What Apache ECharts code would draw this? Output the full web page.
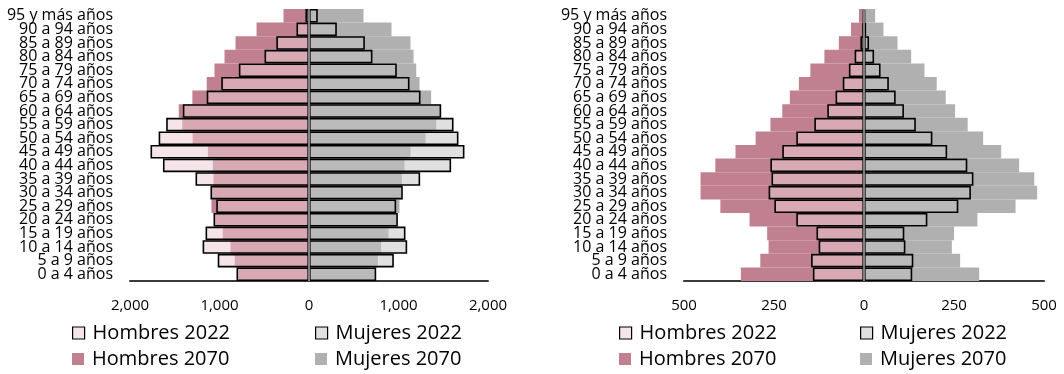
<!DOCTYPE html>
<html>
<head>
<meta charset="utf-8">
<script src="https://cdn.jsdelivr.net/npm/echarts@6/dist/echarts.min.js"></script>
<style>
  html, body { margin: 0; padding: 0; background: #fff; }
  #chart { width: 1064px; height: 374px; }
</style>
</head>
<body>
<div id="chart"></div>
<script>
// age groups, bottom (0 a 4) to top (95 y más)
const ages = ['0 a 4 años', '5 a 9 años', '10 a 14 años', '15 a 19 años', '20 a 24 años',
  '25 a 29 años', '30 a 34 años', '35 a 39 años', '40 a 44 años', '45 a 49 años',
  '50 a 54 años', '55 a 59 años', '60 a 64 años', '65 a 69 años', '70 a 74 años',
  '75 a 79 años', '80 a 84 años', '85 a 89 años', '90 a 94 años', '95 y más años']

// left pyramid
const leftHombres2022 = [810, 1020, 1189, 1156, 1067, 1036, 1101, 1268, 1632, 1771, 1680, 1596, 1410, 1143, 980, 784, 497, 365, 140, 40]
const leftHombres2070 = [790, 830, 877, 964, 1056, 1090, 1087, 1067, 1075, 1130, 1300, 1416, 1455, 1303, 1143, 1056, 944, 821, 586, 285]
const leftMujeres2022 = [751, 948, 1097, 1078, 993, 974, 1048, 1242, 1588, 1737, 1670, 1615, 1477, 1246, 1123, 981, 709, 624, 311, 98]
const leftMujeres2070 = [745, 769, 806, 888, 985, 1011, 1030, 1037, 1067, 1134, 1302, 1421, 1470, 1365, 1235, 1198, 1168, 1134, 922, 609]

// right pyramid
const rightHombres2022 = [142, 147, 126, 132, 188, 249, 265, 257, 260, 227, 188, 138, 102, 79, 59, 42, 26, 10, 5, 3]
const rightHombres2070 = [342, 288, 265, 269, 318, 399, 454, 454, 413, 357, 301, 260, 227, 206, 181, 149, 110, 70, 36, 14]
const rightMujeres2022 = [134, 137, 115, 112, 176, 262, 297, 304, 287, 231, 190, 144, 111, 88, 69, 46, 28, 14, 6, 3]
const rightMujeres2070 = [320, 267, 244, 250, 315, 421, 481, 473, 431, 381, 331, 288, 253, 227, 202, 168, 131, 93, 54, 31]

const leftMax = 2000
const leftStep = 1000
const rightMax = 500
const rightStep = 250

const FONT = '"Open Sans"'
const pinkDark = '#c1808f'
const grayDark = '#b0b0b0'
const pinkLight = 'rgba(238, 206, 212, 0.53)'
const grayLight = 'rgba(196, 196, 196, 0.52)'

const neg = arr => arr.map(v => -v)
const fmt = v => Math.abs(v).toLocaleString('en-US')

function makeSeries (idx, h22, h70, m22, m70) {
  const base = {
    type: 'bar',
    xAxisIndex: idx,
    yAxisIndex: idx,
    barGap: '-100%',
    barCategoryGap: '0%',
    silent: true
  }
  return [
    Object.assign({}, base, { name: 'Hombres 2070', data: neg(h70), itemStyle: { color: pinkDark } }),
    Object.assign({}, base, { name: 'Mujeres 2070', data: m70, itemStyle: { color: grayDark } }),
    Object.assign({}, base, {
      name: 'Hombres 2022', data: neg(h22),
      itemStyle: { color: pinkLight, borderColor: '#000', borderWidth: 1.6 }
    }),
    Object.assign({}, base, {
      name: 'Mujeres 2022', data: m22,
      itemStyle: { color: grayLight, borderColor: '#000', borderWidth: 1.6 },
      markLine: {
        silent: true,
        symbol: ['none', 'none'],
        label: { show: false },
        lineStyle: { color: '#808080', width: 2, type: 'solid' },
        data: [{ xAxis: 0 }]
      }
    })
  ]
}

function makeXAxis (idx, max, step) {
  return {
    type: 'value',
    gridIndex: idx,
    min: -max,
    max: max,
    interval: step,
    axisLine: { show: true, onZero: false, lineStyle: { color: '#3a3a3a', width: 2 } },
    axisTick: { show: false },
    splitLine: { show: false },
    axisLabel: { formatter: fmt, color: '#000', fontFamily: FONT, fontSize: 15, margin: 17 }
  }
}

function makeYAxis (idx) {
  return {
    type: 'category',
    gridIndex: idx,
    data: ages,
    axisLine: { show: false, onZero: false },
    axisTick: { show: false },
    axisLabel: { color: '#000', fontFamily: FONT, fontSize: 16, margin: 17, interval: 0, lineHeight: 14 }
  }
}

// one legend per entry so the 2x2 layout is fixed
function makeLegend (left, top, name) {
  return {
    left: left,
    top: top,
    icon: 'rect',
    itemWidth: 12,
    itemHeight: 12,
    selectedMode: false,
    padding: 0,
    itemStyle: { borderWidth: 1.2 },
    textStyle: { color: '#000', fontFamily: FONT, fontSize: 20, lineHeight: 20, padding: [0, 0, 0, 3] },
    data: [name]
  }
}

const chart = echarts.init(document.getElementById('chart'))
chart.setOption({
  animation: false,
  grid: [
    { left: 130, top: 9, width: 358, height: 272 },
    { left: 684, top: 9, width: 360, height: 272 }
  ],
  xAxis: [makeXAxis(0, leftMax, leftStep), makeXAxis(1, rightMax, rightStep)],
  yAxis: [makeYAxis(0), makeYAxis(1)],
  legend: [
    makeLegend(72, 323, 'Hombres 2022'),
    makeLegend(72, 349, 'Hombres 2070'),
    makeLegend(315, 323, 'Mujeres 2022'),
    makeLegend(315, 349, 'Mujeres 2070'),
    makeLegend(619, 323, 'Hombres 2022'),
    makeLegend(619, 349, 'Hombres 2070'),
    makeLegend(860, 323, 'Mujeres 2022'),
    makeLegend(860, 349, 'Mujeres 2070')
  ],
  series: makeSeries(0, leftHombres2022, leftHombres2070, leftMujeres2022, leftMujeres2070)
    .concat(makeSeries(1, rightHombres2022, rightHombres2070, rightMujeres2022, rightMujeres2070))
})
</script>
</body>
</html>
